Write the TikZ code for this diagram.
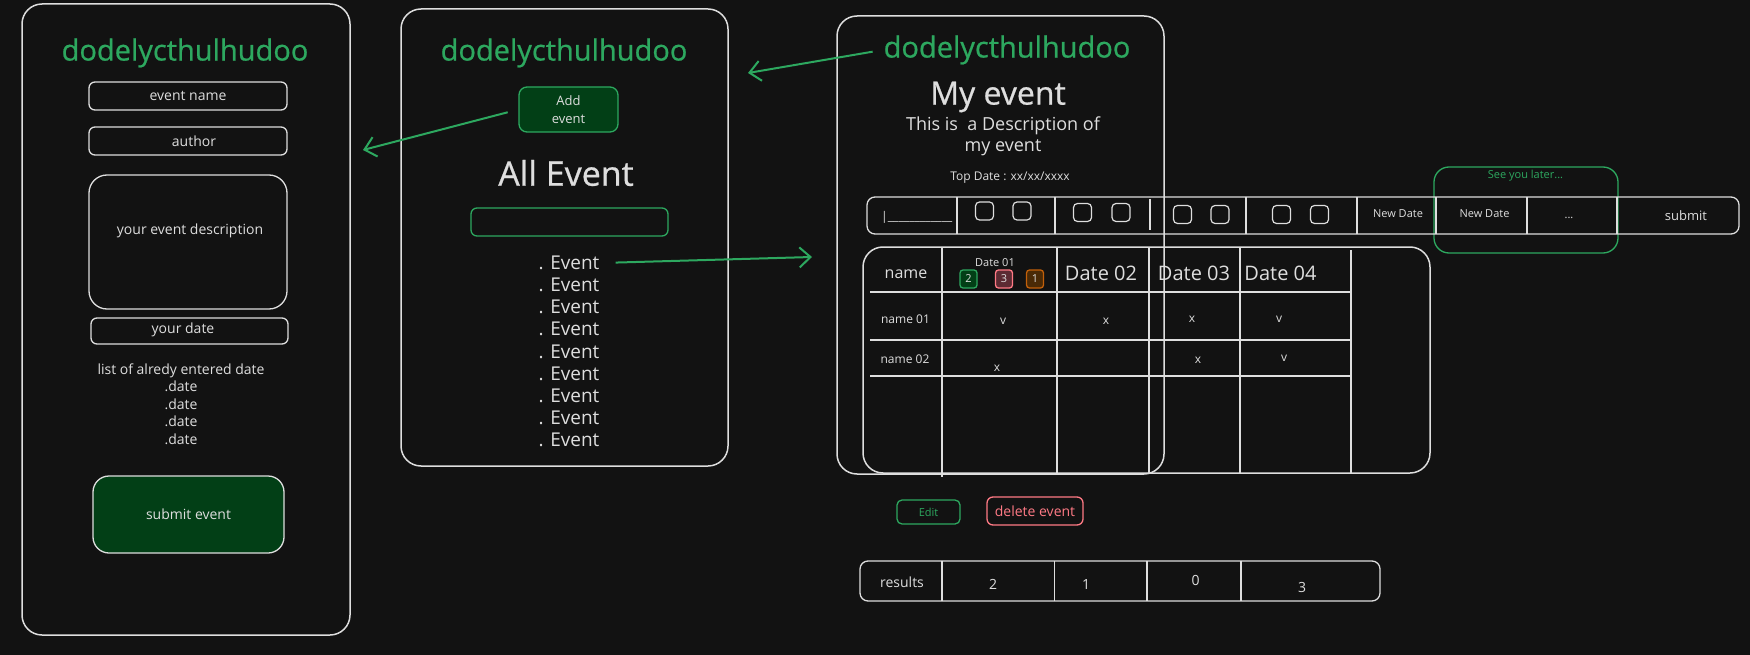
\documentclass[tikz,border=0pt]{standalone}
\usepackage{fontspec}
\setmainfont{Open Sans}
\newfontfamily\headfont{Open Sans}[FakeBold=0.7]
\usetikzlibrary{arrows.meta}
\definecolor{bg}{HTML}{121212}
\definecolor{fg}{HTML}{DEDEDE}
\definecolor{brandgreen}{HTML}{2DA85F}
\definecolor{dkgreen}{HTML}{023F16}
\definecolor{alertred}{HTML}{FF7A85}
\definecolor{dkred}{HTML}{5C2B33}
\definecolor{amber}{HTML}{C2600A}
\definecolor{dkamber}{HTML}{4A2A06}
\newcommand\fsz[2]{\fontsize{#1}{#2}\selectfont}
\tikzset{
  panel/.style={draw=fg, line width=1.5pt, rounded corners=20pt, inner sep=0pt},
  box/.style={draw=fg, line width=1.3pt, rounded corners=6pt, inner sep=0pt, text=fg},
  lbl/.style={text=fg, inner sep=1pt},
  brand/.style={text=brandgreen, font=\headfont\fsz{29}{34}, inner sep=1pt},
  arrowline/.style={draw=brandgreen, line width=2pt,
    -{Straight Barb[length=11pt,width=20pt,line width=2pt]}},
  tickbox/.style={draw=fg, line width=1.2pt, rounded corners=4pt,
    minimum width=18pt, minimum height=18pt, inner sep=0pt},
  badge/.style={line width=1.3pt, rounded corners=3pt, minimum width=17pt,
    minimum height=18pt, inner sep=0pt, text=fg, font=\fsz{11}{13}},
  gridline/.style={draw=fg, line width=1.3pt},
}
\begin{document}
\begin{tikzpicture}[x=1pt,y=-1pt]
\fill[bg] (0,0) rectangle (1750,655);
\useasboundingbox (0,0) rectangle (1750,655);

% ---------- event creation form ----------
\node[panel, minimum width=328pt, minimum height=631pt] (form) at (186,319.5) {};
\node[brand] (title1) at (185,53) {dodelycthulhudoo};
\node[box, minimum width=198pt, minimum height=28pt, font=\fsz{14}{17}] (fname) at (188,96) {event name};
\node[box, minimum width=198pt, minimum height=28pt] (fauthor) at (188,141) {};
\node[lbl, font=\fsz{14}{17}] (fauthortxt) at (194,141) {author};
\node[box, rounded corners=18pt, minimum width=198pt, minimum height=134pt] (fdesc) at (188,242) {};
\node[lbl, font=\fsz{14}{17}] (fdesctxt) at (190,231) {your event description};
\node[box, minimum width=197pt, minimum height=26pt] (fdate) at (189.5,331) {};
\node[lbl, font=\fsz{14}{17}] (fdatetxt) at (183,330) {your date};
\node[lbl, font=\fsz{14}{17.5}, align=center] (datelist) at (181,404)
  {list of alredy entered date\\.date\\.date\\.date\\.date};
\node[box, fill=dkgreen, rounded corners=16pt, minimum width=191pt, minimum height=77pt,
  font=\fsz{14}{17}] (submitbtn) at (188.5,514.5) {submit event};

% ---------- event list ----------
\node[panel, minimum width=327pt, minimum height=457pt] (list) at (564.5,237.5) {};
\node[brand] (title2) at (564,53) {dodelycthulhudoo};
\node[box, draw=brandgreen, fill=dkgreen, rounded corners=8pt, minimum width=99pt,
  minimum height=45pt, align=center, font=\fsz{13}{18}] (addbtn) at (568.5,109.5) {Add\\event};
\node[lbl, font=\headfont\fsz{34}{40}] (allevent) at (566,173) {All Event};
\node[box, draw=brandgreen, minimum width=197pt, minimum height=28pt] (search) at (569.5,222) {};
\foreach \i in {1,...,9}
  \node[lbl, font=\fsz{19}{22}] (ev\i) at (569,{263+22.1*(\i-1)}) {. Event};

% ---------- event page ----------
\node[panel, minimum width=327pt, minimum height=458pt] (page) at (1000.5,245) {};
\node[brand] (title3) at (1007,50) {dodelycthulhudoo};
\node[lbl, font=\headfont\fsz{32}{38}] (myevent) at (998,97) {My event};
\node[lbl, font=\fsz{18}{21}, align=center] (mydesc) at (1003,136.5)
  {This is~~a Description of\\my event};
\node[lbl, font=\fsz{12}{14}] (topdate) at (1010,178) {Top Date : xx/xx/xxxx};

% answer strip
\node[box, draw=brandgreen, rounded corners=15pt, minimum width=184pt, minimum height=86pt] (later) at (1526,210) {};
\node[text=brandgreen, inner sep=1pt, font=\fsz{11}{13}] (latertxt) at (1525.5,176) {See you later...};
\node[box, rounded corners=8pt, minimum width=872pt, minimum height=37pt] (strip) at (1303,215.5) {};
\foreach \x in {957,1055,1246,1357,1436,1527,1617}
  \draw[gridline] (\x,197) -- (\x,234);
\draw[gridline] (1150,199) -- (1150,230);
\node[lbl, anchor=base west, font=\fsz{12}{14}] (namefield) at (880,221)
  {|\_\_\_\_\_\_\_\_\_\_\_\_};
\foreach \n/\x/\y in {c1/984.5/211, c2/1022/211, c3/1082.5/212.5, c4/1121/212.5,
    c5/1182.5/214.5, c6/1220/214.5, c7/1281.5/214.5, c8/1319.5/214.5}
  \node[tickbox] (\n) at (\x,\y) {};
\node[lbl, font=\fsz{11}{13}] (newdate1) at (1398,214) {New Date};
\node[lbl, font=\fsz{11}{13}] (newdate2) at (1484.5,214) {New Date};
\node[lbl, font=\fsz{11}{13}] (more) at (1569,218) {...};
\node[lbl, font=\fsz{13}{15}] (submitans) at (1686,216) {submit};

% answers table
\node[panel, minimum width=567pt, minimum height=226pt] (table) at (1146.5,360) {};
\draw[gridline] (942,247) -- (942,477);
\foreach \x in {1057,1149,1240}
  \draw[gridline] (\x,247) -- (\x,473);
\draw[gridline] (1351,250) -- (1351,473);
\foreach \y in {292,340,376}
  \draw[gridline] (870,\y) -- (1352,\y);
\node[lbl, font=\fsz{16}{19}] (hname) at (906,274) {name};
\node[lbl, font=\fsz{11}{13}] (hdate1) at (995,263) {Date 01};
\node[badge, draw=brandgreen, fill=dkgreen] (bgreen) at (968.5,279) {2};
\node[badge, draw=alertred, fill=dkred] (bred) at (1004,279) {3};
\node[badge, draw=amber, fill=dkamber] (bamber) at (1035,279) {1};
\node[lbl, font=\fsz{20}{24}] (hdate2) at (1101,273) {Date 02};
\node[lbl, font=\fsz{20}{24}] (hdate3) at (1194,273) {Date 03};
\node[lbl, font=\fsz{20}{24}] (hdate4) at (1280.5,273) {Date 04};
\node[lbl, font=\fsz{12}{14}] (rname1) at (905.5,319) {name 01};
\node[lbl, font=\fsz{12}{14}] (rname2) at (905,359) {name 02};
\foreach \n/\x/\y/\t in {a11/1003/321/v, a12/1106/321/x, a13/1192/319/x, a14/1279/319/v,
    a21/997/368/x, a23/1198/360/x, a24/1284/358/v}
  \node[lbl, font=\fsz{12}{14}] (\n) at (\x,\y) {\t};

% actions
\node[box, draw=brandgreen, rounded corners=5pt, minimum width=63pt, minimum height=24pt,
  text=brandgreen, font=\fsz{11}{13}] (editbtn) at (928.5,512) {Edit};
\node[box, draw=alertred, rounded corners=6pt, minimum width=96pt, minimum height=28pt,
  text=alertred, font=\fsz{14}{17}] (deletebtn) at (1035,511) {delete event};

% results row
\node[box, rounded corners=8pt, minimum width=520pt, minimum height=40pt] (results) at (1120,581) {};
\foreach \x in {942,1054.5,1147,1241}
  \draw[gridline] (\x,561) -- (\x,601);
\node[lbl, font=\fsz{14}{17}] (restxt) at (902,582) {results};
\node[lbl, font=\fsz{14}{17}] (r1) at (993,584) {2};
\node[lbl, font=\fsz{14}{17}] (r2) at (1086,584) {1};
\node[lbl, font=\fsz{14}{17}] (r3) at (1195.5,580) {0};
\node[lbl, font=\fsz{14}{17}] (r4) at (1302,587) {3};

% ---------- navigation arrows ----------
\coordinate (tofrom) at (363,150);
\coordinate (tolist) at (748,73);
\coordinate (topage) at (812,257);
\draw[arrowline, shorten <=11pt] (addbtn.west) -- (tofrom);
\draw[arrowline, shorten <=10pt] (title3.west) -- (tolist);
\draw[arrowline, shorten <=15pt] (ev1.east) -- (topage);
\end{tikzpicture}
\end{document}
